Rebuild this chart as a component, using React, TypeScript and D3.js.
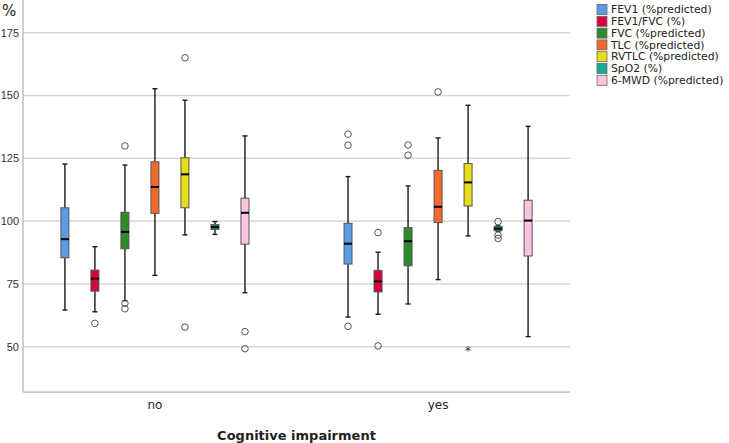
import React from 'react';
import * as d3 from 'd3';

const categories = ['no', 'yes'];
const seriesNames = [
  'FEV1 (%predicted)',
  'FEV1/FVC (%)',
  'FVC (%predicted)',
  'TLC (%predicted)',
  'RVTLC (%predicted)',
  'SpO2 (%)',
  '6-MWD (%predicted)',
];
const seriesColors = ['#5b9be2', '#d5003c', '#2f8a2c', '#f26a2b', '#e8dc16', '#1aa89a', '#fac4e2'];
const boxFill = ['#5b9be2', '#d5003c', '#2f8a2c', '#f26a2b', '#e8dc16', '#138a7c', '#fac4e2'];

// [low whisker, Q1, median, Q3, high whisker]
const statsNo = [
  [64.6, 85.4, 92.8, 105.3, 122.7],
  [63.9, 72.1, 77.1, 80.5, 89.8],
  [68.3, 89.0, 95.7, 103.5, 122.3],
  [78.4, 103.1, 113.6, 123.6, 152.7],
  [94.5, 105.3, 118.6, 125.2, 148.1],
  [94.7, 96.7, 97.6, 98.6, 99.8],
  [71.5, 90.8, 103.3, 109.1, 133.9],
];
const statsYes = [
  [61.8, 82.9, 91.0, 99.1, 117.7],
  [62.9, 71.8, 76.0, 80.4, 87.6],
  [67.0, 82.2, 92.0, 97.4, 114.0],
  [76.7, 99.4, 105.7, 120.2, 133.1],
  [94.1, 106.0, 115.4, 122.9, 146.1],
  [96.0, 96.2, 97.0, 97.9, 98.1],
  [54.0, 86.1, 100.2, 108.3, 137.7],
];
const outliersNo = [[], [59.3], [129.9, 67.3, 65.1], [], [165.0, 57.8], [], [56.0, 49.2]];
const outliersYes = [[134.6, 130.2, 58.1], [95.4, 50.3], [130.3, 126.2], [151.4], [], [99.8, 94.4, 93.1], []];
const extremesYes = [[], [], [], [], [49.0], [], []];
const yTicks = [50, 75, 100, 125, 150, 175];

const W = 729;
const H = 443;
const left = 23;
const right = 570;
const bottom = 392;
const font = '"DejaVu Sans", sans-serif';

export default function App() {
  const y = d3.scaleLinear().domain([31.97, 188]).range([bottom, 0]);
  const x0 = d3.scaleBand<string>().domain(categories).range([left, right])
    .paddingInner(0.258).paddingOuter(0.095);
  const x1 = d3.scaleBand<number>().domain(d3.range(seriesNames.length)).range([0, x0.bandwidth()]);
  const boxW = 8;
  const capW = 5;

  const groups = [
    { cat: 'no', stats: statsNo, out: outliersNo, ext: seriesNames.map(() => [] as number[]) },
    { cat: 'yes', stats: statsYes, out: outliersYes, ext: extremesYes },
  ];

  return (
    <svg width={W} height={H} style={{ position: 'absolute', left: 0, top: 0, background: '#fff' }} fontFamily={font}>
      {/* grid */}
      {yTicks.map(t => (
        <line key={t} x1={left} x2={right} y1={y(t)} y2={y(t)} stroke="#d6d6d6" strokeWidth={1.5} />
      ))}
      {yTicks.map(t => (
        <text key={'l' + t} x={19} y={y(t)} dy="0.35em" textAnchor="end" fontSize={11}
          fontFamily='"Liberation Sans", Arial, sans-serif' fill="#333">{t}</text>
      ))}
      <text x={2} y={16} fontSize={15} fill="#222">%</text>
      {/* axes */}
      <line x1={left} x2={left} y1={0} y2={bottom} stroke="#a0a0a0" strokeWidth={1} />
      <line x1={left} x2={right} y1={bottom} y2={bottom} stroke="#a0a0a0" strokeWidth={1} />

      {groups.map(g => (
        <g key={g.cat}>
          {g.stats.map((s, i) => {
            const cx = (x0(g.cat) ?? 0) + (x1(i) ?? 0) + x1.bandwidth() / 2;
            const [lo, q1, med, q3, hi] = s;
            return (
              <g key={i}>
                <line x1={cx} x2={cx} y1={y(hi)} y2={y(q3)} stroke="#1a1a1a" strokeWidth={1.4} />
                <line x1={cx} x2={cx} y1={y(q1)} y2={y(lo)} stroke="#1a1a1a" strokeWidth={1.4} />
                <line x1={cx - capW / 2} x2={cx + capW / 2} y1={y(hi)} y2={y(hi)} stroke="#1a1a1a" strokeWidth={1.4} />
                <line x1={cx - capW / 2} x2={cx + capW / 2} y1={y(lo)} y2={y(lo)} stroke="#1a1a1a" strokeWidth={1.4} />
                <rect x={cx - boxW / 2} y={y(q3)} width={boxW} height={Math.max(1, y(q1) - y(q3))}
                  fill={boxFill[i]} stroke="#555" strokeWidth={1} />
                <line x1={cx - boxW / 2} x2={cx + boxW / 2} y1={y(med)} y2={y(med)} stroke="#000" strokeWidth={2} />
                {g.out[i].map((o, k) => (
                  <circle key={k} cx={cx} cy={y(o)} r={3.3} fill="none" stroke="#555" strokeWidth={1} />
                ))}
                {g.ext[i].map((o, k) => (
                  <text key={'e' + k} x={cx} y={y(o)} dy="0.5em" textAnchor="middle" fontSize={12} fill="#333">*</text>
                ))}
              </g>
            );
          })}
          <text x={(x0(g.cat) ?? 0) + x0.bandwidth() / 2} y={405} dy="0.35em" textAnchor="middle" fontSize={12} fill="#222">{g.cat}</text>
        </g>
      ))}

      <text x={(left + right) / 2} y={435} dy="0.35em" textAnchor="middle" fontSize={13} fontWeight="bold" fill="#222">Cognitive impairment</text>

      {/* legend */}
      {seriesNames.map((n, i) => {
        const cy = 9.5 + i * 11.8;
        return (
          <g key={n}>
            <rect x={597} y={cy - 5} width={10} height={10} fill={seriesColors[i]} stroke="#666" strokeWidth={0.8} />
            <text x={611} y={cy} dy="0.35em" fontSize={10.8} fill="#222">{n}</text>
          </g>
        );
      })}
    </svg>
  );
}
